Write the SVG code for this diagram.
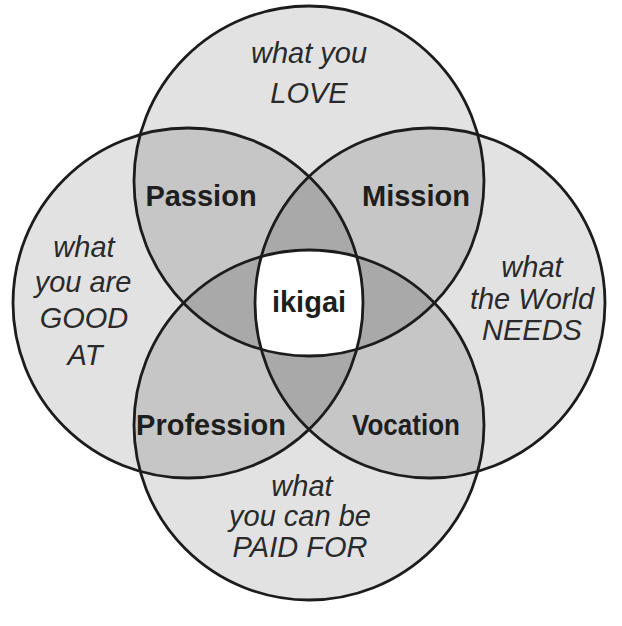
<svg xmlns="http://www.w3.org/2000/svg" width="622" height="626" viewBox="0 0 622 626">
  <style>
    .base { fill: #e2e2e2; }
    .two { fill: #c6c6c6; }
    .three { fill: #a9a9a9; }
    .four { fill: #ffffff; }
    .ring { fill: none; stroke: #1c1c1c; stroke-width: 2.8; }
    .it { font-family: "Liberation Sans", Arial, sans-serif; font-style: italic; font-size: 29px; fill: #2a2a2a; text-anchor: middle; }
    .bd { font-family: "Liberation Sans", Arial, sans-serif; font-weight: bold; font-size: 29px; fill: #1e1e1e; text-anchor: middle; }
  </style>
  <defs>
    <circle id="cTop" cx="309" cy="181" r="175"/>
    <circle id="cBot" cx="309" cy="425" r="175"/>
    <circle id="cLeft" cx="188" cy="303" r="175"/>
    <circle id="cRight" cx="430" cy="303" r="175"/>
    <clipPath id="clipTop"><use href="#cTop"/></clipPath>
    <clipPath id="clipBot"><use href="#cBot"/></clipPath>
    <clipPath id="clipLeft"><use href="#cLeft"/></clipPath>
    <clipPath id="clipRight"><use href="#cRight"/></clipPath>
  </defs>
  <rect width="622" height="626" fill="#ffffff"/>

  <g id="fills">
    <use href="#cTop" class="base"/>
    <use href="#cBot" class="base"/>
    <use href="#cLeft" class="base"/>
    <use href="#cRight" class="base"/>
    <!-- two-circle overlaps -->
    <g clip-path="url(#clipTop)"><use href="#cLeft" class="two"/><use href="#cRight" class="two"/></g>
    <g clip-path="url(#clipBot)"><use href="#cLeft" class="two"/><use href="#cRight" class="two"/></g>
    <!-- three-circle overlaps -->
    <g clip-path="url(#clipTop)"><use href="#cBot" class="three"/></g>
    <g clip-path="url(#clipLeft)"><use href="#cRight" class="three"/></g>
    <!-- four-circle overlap -->
    <g clip-path="url(#clipTop)"><g clip-path="url(#clipBot)"><g clip-path="url(#clipLeft)"><use href="#cRight" class="four"/></g></g></g>
  </g>

  <g id="outlines">
    <use href="#cTop" class="ring"/>
    <use href="#cBot" class="ring"/>
    <use href="#cLeft" class="ring"/>
    <use href="#cRight" class="ring"/>
  </g>

  <g id="love">
    <text class="it" x="309" y="63">what you</text>
    <text class="it" x="309" y="103">LOVE</text>
  </g>
  <g id="good">
    <text class="it" x="84" y="257">what</text>
    <text class="it" x="83" y="292">you are</text>
    <text class="it" x="84" y="328">GOOD</text>
    <text class="it" x="85" y="365">AT</text>
  </g>
  <g id="needs">
    <text class="it" x="532" y="277">what</text>
    <text class="it" x="532" y="309">the World</text>
    <text class="it" x="532" y="340">NEEDS</text>
  </g>
  <g id="paid">
    <text class="it" x="302" y="496">what</text>
    <text class="it" x="300" y="526">you can be</text>
    <text class="it" x="300" y="557">PAID FOR</text>
  </g>

  <g id="passion"><text class="bd" x="201" y="206">Passion</text></g>
  <g id="mission"><text class="bd" x="416" y="206">Mission</text></g>
  <g id="profession"><text class="bd" x="211" y="435">Profession</text></g>
  <g id="vocation"><text class="bd" x="406" y="435" textLength="108" lengthAdjust="spacingAndGlyphs">Vocation</text></g>
  <g id="ikigai"><text class="bd" x="309" y="312">ikigai</text></g>
</svg>
